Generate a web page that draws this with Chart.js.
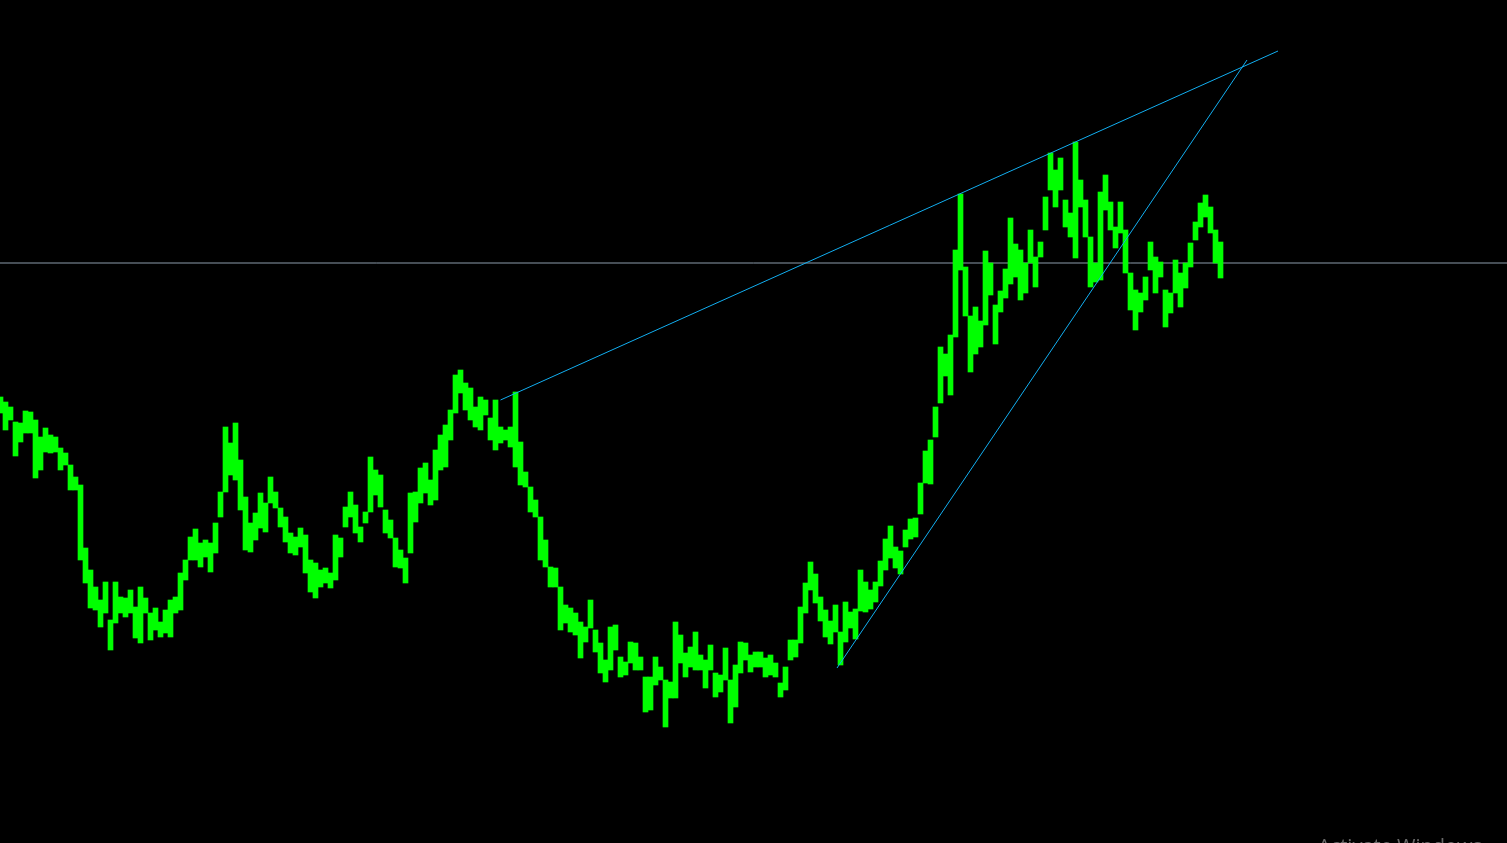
<!DOCTYPE html>
<html>
<head>
<meta charset="utf-8">
<title>Price chart</title>
<script src="https://cdn.jsdelivr.net/npm/chart.js@4/dist/chart.umd.min.js"></script>
<style>
  html, body { margin: 0; padding: 0; background: #000; overflow: hidden; }
  canvas { display: block; }
</style>
</head>
<body>
<canvas id="priceChart" width="1507" height="843"></canvas>
<script>
// bar highs / lows, one bar per index
const highs = [
  1.0946,1.0941,1.0936,1.0921,1.0920,1.0932,1.0931,1.0923,1.0906,1.0915,
  1.0908,1.0906,1.0895,1.0890,1.0878,1.0866,1.0858,1.0795,1.0773,1.0756,
  1.0743,1.0761,1.0723,1.0761,1.0746,1.0745,1.0753,1.0736,1.0756,1.0745,
  1.0730,1.0735,1.0721,1.0733,1.0743,1.0746,1.0770,1.0783,1.0806,1.0814,
  1.0800,1.0803,1.0800,1.0820,1.0851,1.0916,1.0900,1.0920,1.0883,1.0846,
  1.0820,1.0830,1.0850,1.0840,1.0866,1.0851,1.0835,1.0826,1.0810,1.0806,
  1.0815,1.0808,1.0783,1.0780,1.0773,1.0775,1.0770,1.0808,1.0805,1.0836,
  1.0851,1.0838,1.0816,1.0831,1.0886,1.0873,1.0868,1.0833,1.0823,1.0805,
  1.0793,1.0785,1.0850,1.0851,1.0875,1.0880,1.0863,1.0893,1.0908,1.0918,
  1.0933,1.0968,1.0973,1.0960,1.0955,1.0936,1.0946,1.0943,1.0925,1.0943,
  1.0916,1.0913,1.0916,1.0951,1.0901,1.0871,1.0856,1.0843,1.0826,1.0803,
  1.0776,1.0775,1.0756,1.0738,1.0735,1.0730,1.0721,1.0716,1.0743,1.0713,
  1.0700,1.0683,1.0716,1.0718,1.0686,1.0681,1.0701,1.0700,1.0686,1.0666,
  1.0666,1.0686,1.0676,1.0663,1.0661,1.0721,1.0708,1.0690,1.0696,1.0711,
  1.0688,1.0683,1.0698,1.0670,1.0668,1.0695,1.0663,1.0678,1.0701,1.0700,
  1.0688,1.0691,1.0691,1.0685,1.0688,1.0680,1.0660,1.0676,1.0703,1.0703,
  1.0736,1.0760,1.0781,1.0769,1.0746,1.0733,1.0722,1.0738,1.0711,1.0741,
  1.0731,1.0734,1.0773,1.0761,1.0753,1.0761,1.0782,1.0804,1.0817,1.0796,
  1.0792,1.0813,1.0824,1.0825,1.0860,1.0892,1.0903,1.0936,1.0996,1.0989,
  1.1008,1.1093,1.1149,1.1076,1.1027,1.1036,1.1022,1.1092,1.1080,1.1038,
  1.1052,1.1074,1.1125,1.1099,1.1093,1.1080,1.1113,1.1086,1.1101,1.1146,
  1.1190,1.1173,1.1185,1.1143,1.1130,1.1201,1.1163,1.1143,1.1106,1.1080,
  1.1151,1.1168,1.1141,1.1116,1.1141,1.1113,1.1070,1.1053,1.1050,1.1066,
  1.1101,1.1086,1.1081,1.1053,1.1050,1.1083,1.1070,1.1080,1.1100,1.1121,
  1.1140,1.1148,1.1136,1.1113,1.1101
];
const lows = [
  1.0930,1.0913,1.0923,1.0887,1.0901,1.0910,1.0910,1.0865,1.0873,1.0891,
  1.0890,1.0891,1.0873,1.0878,1.0853,1.0853,1.0783,1.0760,1.0735,1.0733,
  1.0716,1.0730,1.0693,1.0720,1.0730,1.0726,1.0730,1.0705,1.0700,1.0730,
  1.0703,1.0713,1.0706,1.0710,1.0706,1.0730,1.0733,1.0763,1.0783,1.0783,
  1.0776,1.0786,1.0771,1.0790,1.0826,1.0851,1.0868,1.0863,1.0833,1.0793,
  1.0791,1.0803,1.0815,1.0811,1.0840,1.0835,1.0816,1.0801,1.0790,1.0788,
  1.0796,1.0770,1.0751,1.0745,1.0756,1.0760,1.0755,1.0763,1.0786,1.0816,
  1.0826,1.0810,1.0801,1.0820,1.0831,1.0848,1.0836,1.0810,1.0805,1.0776,
  1.0775,1.0760,1.0790,1.0821,1.0840,1.0850,1.0838,1.0843,1.0873,1.0876,
  1.0903,1.0930,1.0950,1.0933,1.0923,1.0916,1.0913,1.0928,1.0903,1.0893,
  1.0900,1.0903,1.0896,1.0876,1.0858,1.0856,1.0831,1.0826,1.0783,1.0776,
  1.0756,1.0756,1.0713,1.0720,1.0711,1.0708,1.0685,1.0701,1.0715,1.0691,
  1.0670,1.0661,1.0673,1.0693,1.0666,1.0668,1.0680,1.0673,1.0673,1.0631,
  1.0633,1.0658,1.0663,1.0616,1.0645,1.0645,1.0680,1.0666,1.0676,1.0673,
  1.0673,1.0655,1.0673,1.0646,1.0651,1.0663,1.0620,1.0636,1.0670,1.0683,
  1.0671,1.0676,1.0676,1.0666,1.0668,1.0666,1.0646,1.0653,1.0683,1.0686,
  1.0700,1.0730,1.0753,1.0740,1.0722,1.0706,1.0699,1.0711,1.0678,1.0701,
  1.0715,1.0704,1.0732,1.0731,1.0734,1.0741,1.0757,1.0773,1.0785,1.0775,
  1.0769,1.0796,1.0804,1.0806,1.0829,1.0860,1.0859,1.0906,1.0940,1.0967,
  1.0948,1.1006,1.1073,1.1027,1.0971,1.0989,1.0996,1.1018,1.1048,1.0999,
  1.1031,1.1045,1.1059,1.1066,1.1043,1.1050,1.1080,1.1056,1.1086,1.1113,
  1.1153,1.1136,1.1153,1.1116,1.1106,1.1085,1.1136,1.1106,1.1056,1.1061,
  1.1063,1.1133,1.1113,1.1095,1.1110,1.1070,1.1033,1.1013,1.1031,1.1043,
  1.1073,1.1050,1.1066,1.1016,1.1030,1.1050,1.1036,1.1055,1.1076,1.1103,
  1.1116,1.1126,1.1110,1.1080,1.1065
];

// drawn objects: [index, price] end points
const upperTrend = [[100, 1.0943], [255.5, 1.1292]];
const lowerTrend = [[167.3, 1.0675], [249.3, 1.1283]];
const levelPrice = 1.1080;

const bars = highs.map((h, i) => ({ x: i, y: [lows[i], h] }));
const toPts = arr => arr.map(p => ({ x: p[0], y: p[1] }));

const watermark = {
  id: 'watermark',
  afterDraw(chart) {
    const c = chart.ctx;
    c.save();
    c.font = '20px "Open Sans", "DejaVu Sans", sans-serif';
    c.fillStyle = 'rgba(190,190,190,0.55)';
    c.fillText('Activate Windows', 1318, 853);
    c.restore();
  }
};

new Chart(document.getElementById('priceChart').getContext('2d'), {
  type: 'bar',
  data: {
    datasets: [
      {
        type: 'line',
        data: [{ x: -1, y: levelPrice }, { x: 305, y: levelPrice }],
        borderColor: '#8c9cab',
        borderWidth: 1,
        pointRadius: 0,
        order: 3
      },
      {
        type: 'line',
        data: toPts(upperTrend),
        borderColor: '#12aef0',
        borderWidth: 1,
        pointRadius: 0,
        order: 1
      },
      {
        type: 'line',
        data: toPts(lowerTrend),
        borderColor: '#12aef0',
        borderWidth: 1,
        pointRadius: 0,
        order: 1
      },
      {
        type: 'bar',
        data: bars,
        backgroundColor: '#00ff00',
        borderWidth: 0,
        barThickness: 5,
        grouped: false,
        order: 2
      }
    ]
  },
  options: {
    responsive: false,
    animation: false,
    layout: { padding: 0 },
    plugins: {
      legend: { display: false },
      tooltip: { enabled: false }
    },
    scales: {
      x: { type: 'linear', offset: false, min: -0.1, max: 301.3, display: false },
      y: { min: 1.0500, max: 1.1343, display: false }
    }
  },
  plugins: [watermark]
});
</script>
</body>
</html>
